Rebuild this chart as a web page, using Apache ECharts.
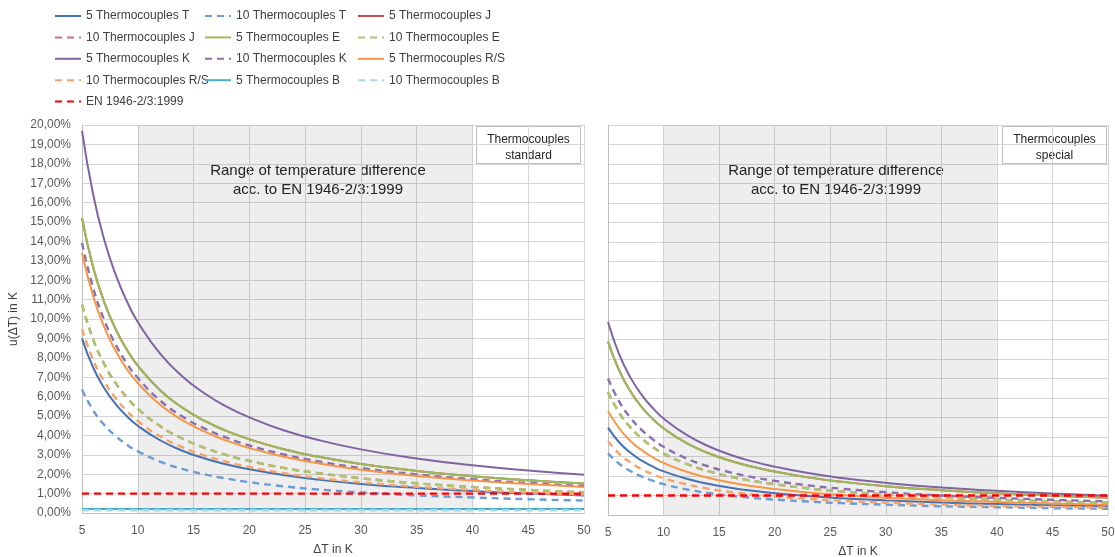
<!DOCTYPE html>
<html>
<head>
<meta charset="utf-8">
<script src="https://cdn.jsdelivr.net/npm/echarts@6/dist/echarts.min.js"></script>
<style>
    html, body { margin: 0; background: #fff; }
    #chart { width: 1115px; height: 557px; }
</style>
</head>
<body>
<div id="chart"></div>
<script>
// x positions (ΔT in K)
const dT = [5, 6, 7, 8, 9, 10, 12, 14, 16, 18, 20, 23, 26, 30, 35, 40, 45, 50]
const flatX = [5, 50]

// left chart - thermocouples standard (values in %)
const stdT5 = [9.00, 7.50, 6.43, 5.63, 5.00, 4.50, 3.75, 3.21, 2.81, 2.50, 2.25, 1.96, 1.73, 1.50, 1.29, 1.13, 1.00, 0.90]
const stdT10 = [6.36, 5.30, 4.54, 3.98, 3.53, 3.18, 2.65, 2.27, 1.99, 1.77, 1.59, 1.38, 1.22, 1.06, 0.91, 0.80, 0.71, 0.64]
const stdJ5 = [15.20, 12.67, 10.86, 9.50, 8.44, 7.60, 6.33, 5.43, 4.75, 4.22, 3.80, 3.30, 2.92, 2.53, 2.17, 1.90, 1.69, 1.52]
const stdJ10 = [10.74, 8.95, 7.67, 6.71, 5.97, 5.37, 4.48, 3.84, 3.36, 2.98, 2.69, 2.33, 2.07, 1.79, 1.53, 1.34, 1.19, 1.07]
const stdE5 = [15.20, 12.67, 10.86, 9.50, 8.44, 7.60, 6.33, 5.43, 4.75, 4.22, 3.80, 3.30, 2.92, 2.53, 2.17, 1.90, 1.69, 1.52]
const stdE10 = [10.74, 8.95, 7.67, 6.71, 5.97, 5.37, 4.48, 3.84, 3.36, 2.98, 2.69, 2.33, 2.07, 1.79, 1.53, 1.34, 1.19, 1.07]
const stdK5 = [19.70, 16.42, 14.07, 12.31, 10.94, 9.85, 8.21, 7.04, 6.16, 5.47, 4.93, 4.28, 3.79, 3.28, 2.81, 2.46, 2.19, 1.97]
const stdK10 = [13.92, 11.60, 9.94, 8.70, 7.73, 6.96, 5.80, 4.97, 4.35, 3.87, 3.48, 3.03, 2.68, 2.32, 1.99, 1.74, 1.55, 1.39]
const stdRS5 = [13.40, 11.17, 9.57, 8.38, 7.44, 6.70, 5.58, 4.79, 4.19, 3.72, 3.35, 2.91, 2.58, 2.23, 1.91, 1.68, 1.49, 1.34]
const stdRS10 = [9.48, 7.90, 6.77, 5.93, 5.27, 4.74, 3.95, 3.39, 2.96, 2.63, 2.37, 2.06, 1.82, 1.58, 1.35, 1.19, 1.05, 0.95]
const stdB5 = [0.20, 0.20]
const stdB10 = [0.14, 0.14]
const stdEN = [1.00, 1.00]

// right chart - thermocouples special
const spcT5 = [4.48, 3.73, 3.20, 2.80, 2.49, 2.24, 1.87, 1.60, 1.40, 1.24, 1.12, 0.97, 0.86, 0.75, 0.64, 0.56, 0.50, 0.45]
const spcT10 = [3.16, 2.63, 2.26, 1.98, 1.76, 1.58, 1.32, 1.13, 0.99, 0.88, 0.79, 0.69, 0.61, 0.53, 0.45, 0.40, 0.35, 0.32]
const spcJ5 = [8.90, 7.42, 6.36, 5.56, 4.94, 4.45, 3.71, 3.18, 2.78, 2.47, 2.23, 1.93, 1.71, 1.48, 1.27, 1.11, 0.99, 0.89]
const spcJ10 = [6.30, 5.25, 4.50, 3.94, 3.50, 3.15, 2.63, 2.25, 1.97, 1.75, 1.58, 1.37, 1.21, 1.05, 0.90, 0.79, 0.70, 0.63]
const spcE5 = [8.90, 7.42, 6.36, 5.56, 4.94, 4.45, 3.71, 3.18, 2.78, 2.47, 2.23, 1.93, 1.71, 1.48, 1.27, 1.11, 0.99, 0.89]
const spcE10 = [6.30, 5.25, 4.50, 3.94, 3.50, 3.15, 2.63, 2.25, 1.97, 1.75, 1.58, 1.37, 1.21, 1.05, 0.90, 0.79, 0.70, 0.63]
const spcK5 = [9.90, 8.25, 7.07, 6.19, 5.50, 4.95, 4.13, 3.54, 3.09, 2.75, 2.48, 2.15, 1.90, 1.65, 1.41, 1.24, 1.10, 0.99]
const spcK10 = [7.00, 5.83, 5.00, 4.38, 3.89, 3.50, 2.92, 2.50, 2.19, 1.94, 1.75, 1.52, 1.35, 1.17, 1.00, 0.88, 0.78, 0.70]
const spcRS5 = [5.34, 4.45, 3.81, 3.34, 2.97, 2.67, 2.23, 1.91, 1.67, 1.48, 1.34, 1.16, 1.03, 0.89, 0.76, 0.67, 0.59, 0.53]
const spcRS10 = [3.78, 3.15, 2.70, 2.36, 2.10, 1.89, 1.58, 1.35, 1.18, 1.05, 0.95, 0.82, 0.73, 0.63, 0.54, 0.47, 0.42, 0.38]
const spcEN = [1.00, 1.00]

// range acc. to EN 1946-2/3:1999
const rangeFrom = 10
const rangeTo = 40

const names = [
    '5 Thermocouples T', '10 Thermocouples T', '5 Thermocouples J',
    '10 Thermocouples J', '5 Thermocouples E', '10 Thermocouples E',
    '5 Thermocouples K', '10 Thermocouples K', '5 Thermocouples R/S',
    '10 Thermocouples R/S', '5 Thermocouples B', '10 Thermocouples B',
    'EN 1946-2/3:1999'
]
const colors = {
    '5 Thermocouples T': '#4671B3', '10 Thermocouples T': '#6D9BD6',
    '5 Thermocouples J': '#C0504D', '10 Thermocouples J': '#E06A66',
    '5 Thermocouples E': '#9BBB59', '10 Thermocouples E': '#A9C770',
    '5 Thermocouples K': '#8064A2', '10 Thermocouples K': '#8A70AE',
    '5 Thermocouples R/S': '#F79646', '10 Thermocouples R/S': '#F8A366',
    '5 Thermocouples B': '#4BACC6', '10 Thermocouples B': '#A8D8E6',
    'EN 1946-2/3:1999': '#FF0000'
}

const font = "'Liberation Sans', Arial, sans-serif"
const chart = echarts.init(document.getElementById('chart'))

const makeLine = (name, xs, ys, idx) => {
    const dashed = !name.startsWith('5 ')
    return {
        name,
        type: 'line',
        xAxisIndex: idx,
        yAxisIndex: idx,
        data: ys.map((v, i) => [xs[i], v]),
        smooth: xs.length > 2,
        symbol: 'none',
        silent: true,
        lineStyle: {
            color: colors[name],
            width: dashed ? 2.4 : 2,
            type: dashed ? [7, 5] : 'solid'
        },
        itemStyle: { color: colors[name] }
    }
}

const shade = (idx) => ({
    type: 'line',
    xAxisIndex: idx,
    yAxisIndex: idx,
    data: [],
    silent: true,
    markArea: {
        silent: true,
        itemStyle: { color: 'rgba(0,0,0,0.065)' },
        data: [[{ xAxis: rangeFrom }, { xAxis: rangeTo }]]
    }
})

const series = [
    shade(0), shade(1),
    makeLine(names[0], dT, stdT5, 0),
    makeLine(names[1], dT, stdT10, 0),
    makeLine(names[2], dT, stdJ5, 0),
    makeLine(names[3], dT, stdJ10, 0),
    makeLine(names[4], dT, stdE5, 0),
    makeLine(names[5], dT, stdE10, 0),
    makeLine(names[6], dT, stdK5, 0),
    makeLine(names[7], dT, stdK10, 0),
    makeLine(names[8], dT, stdRS5, 0),
    makeLine(names[9], dT, stdRS10, 0),
    makeLine(names[10], flatX, stdB5, 0),
    makeLine(names[11], flatX, stdB10, 0),
    makeLine(names[12], flatX, stdEN, 0),
    makeLine(names[0], dT, spcT5, 1),
    makeLine(names[1], dT, spcT10, 1),
    makeLine(names[2], dT, spcJ5, 1),
    makeLine(names[3], dT, spcJ10, 1),
    makeLine(names[4], dT, spcE5, 1),
    makeLine(names[5], dT, spcE10, 1),
    makeLine(names[6], dT, spcK5, 1),
    makeLine(names[7], dT, spcK10, 1),
    makeLine(names[8], dT, spcRS5, 1),
    makeLine(names[9], dT, spcRS10, 1),
    makeLine(names[12], flatX, spcEN, 1)
]

const legendCol = (left, items) => ({
    left,
    top: 10,
    orient: 'vertical',
    padding: 0,
    itemWidth: 26,
    itemHeight: 12,
    itemGap: 9.4,
    selectedMode: false,
    itemStyle: { opacity: 0 },
    data: items,
    textStyle: { color: '#404040', fontSize: 12, fontFamily: font }
})

const xAxisBase = (idx) => ({
    type: 'value',
    gridIndex: idx,
    min: 5,
    max: 50,
    interval: 5,
    name: 'ΔT in K',
    nameLocation: 'middle',
    nameGap: 31,
    nameTextStyle: { color: '#404040', fontSize: 12, fontFamily: font },
    axisLine: { lineStyle: { color: '#BFBFBF' } },
    axisTick: { show: false },
    axisLabel: { color: '#595959', fontSize: 12, fontFamily: font, margin: 12 },
    splitLine: { lineStyle: { color: '#D6D6D6', width: 1 } }
})

const yAxisBase = (idx) => ({
    type: 'value',
    gridIndex: idx,
    min: 0,
    max: 20,
    interval: 1,
    axisLine: { show: true, lineStyle: { color: '#BFBFBF' } },
    axisTick: { show: false },
    axisLabel: {
        show: idx === 0,
        color: '#595959',
        fontSize: 12,
        fontFamily: font,
        margin: 11,
        formatter: v => v.toFixed(2).replace('.', ',') + '%'
    },
    splitLine: { lineStyle: { color: '#D6D6D6', width: 1 } }
})

const rangeText = (cx) => ({
    type: 'text',
    x: cx,
    y: 161,
    silent: true,
    style: {
        text: 'Range of temperature difference\nacc. to EN 1946-2/3:1999',
        textAlign: 'center',
        fill: '#262626',
        font: '15px ' + font,
        lineHeight: 19
    }
})

const boxLabel = (x, text) => ({
    type: 'group',
    left: x,
    top: 126,
    silent: true,
    children: [
        {
            type: 'rect',
            shape: { x: 0, y: 0, width: 104, height: 37 },
            style: { fill: '#fff', stroke: '#BFBFBF', lineWidth: 1 }
        },
        {
            type: 'text',
            style: {
                text,
                x: 52,
                y: 5,
                textAlign: 'center',
                fill: '#262626',
                font: '12px ' + font,
                lineHeight: 16
            }
        }
    ]
})

const option = {
    backgroundColor: '#fff',
    animation: false,
    color: names.map(n => colors[n]),
    legend: [
        legendCol(54, [names[0], names[3], names[6], names[9], names[12]]),
        legendCol(204, [names[1], names[4], names[7], names[10]]),
        legendCol(357, [names[2], names[5], names[8], names[11]])
    ],
    grid: [
        { left: 82, top: 125, width: 502, height: 388, outerBoundsMode: 'none' },
        { left: 608, top: 125, width: 500, height: 390, outerBoundsMode: 'none' }
    ],
    xAxis: [xAxisBase(0), xAxisBase(1)],
    yAxis: [
        Object.assign(yAxisBase(0), {
            name: 'u(ΔT) in K',
            nameLocation: 'middle',
            nameGap: 62,
            nameTextStyle: { color: '#404040', fontSize: 12, fontFamily: font }
        }),
        yAxisBase(1)
    ],
    series,
    graphic: [
        rangeText(318),
        rangeText(836),
        boxLabel(476, 'Thermocouples\nstandard'),
        boxLabel(1002, 'Thermocouples\nspecial')
    ]
}

chart.setOption(option)
</script>
</body>
</html>
